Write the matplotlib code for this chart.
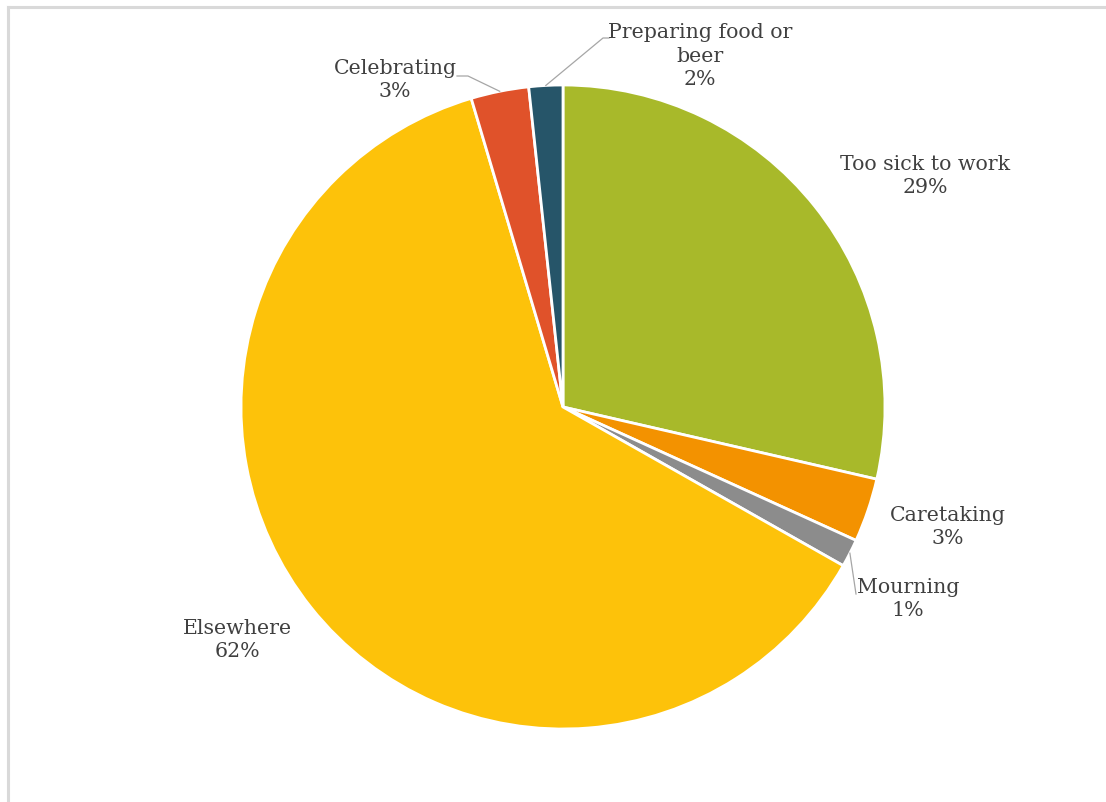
import numpy as np
import matplotlib
matplotlib.use("Agg")
import matplotlib.pyplot as plt
from matplotlib.lines import Line2D

# === Data (clockwise from 12 o'clock) ===
labels = ["Too sick to work", "Caretaking", "Mourning", "Elsewhere", "Celebrating", "Preparing food or\nbeer"]
shares = [28.6, 3.2, 1.4, 62.2, 2.9, 1.7]
pct_text = ["29%", "3%", "1%", "62%", "3%", "2%"]
colors = ["#A8B92A", "#F39200", "#8C8C8C", "#FDC20A", "#E0522A", "#265569"]

W, H = 1106, 802
TEXT_COLOR = "#404040"
LEADER_COLOR = "#A6A6A6"
FONT = ["DejaVu Serif"]

# label centres in screen pixels (y down) + optional leader elbow
label_pos = [(925, 176), (948, 527), (908, 599), (237, 640), (395, 80), (700, 56)]
leader_elbow = [None, None, (856, 594), None, ((468, 76), (457, 76)), ((603, 38), (609, 38))]

fig = plt.figure(figsize=(W / 100, H / 100), dpi=100)
ax = fig.add_axes([0, 0, 1, 1])

cx, cy, r = 563, H - 407, 322
wedges, _ = ax.pie(shares, colors=colors, startangle=90, counterclock=False,
                   center=(cx, cy), radius=r, frame=True,
                   wedgeprops=dict(edgecolor="white", linewidth=2))
ax.set_xlim(0, W)
ax.set_ylim(0, H)
ax.set_aspect("equal")
ax.axis("off")

for i, w in enumerate(wedges):
    lx, ly = label_pos[i]
    ax.text(lx, H - ly, f"{labels[i]}\n{pct_text[i]}", ha="center", va="center",
            fontsize=14.8, color=TEXT_COLOR, family=FONT, linespacing=1.33)
    elbow = leader_elbow[i]
    if elbow is None:
        continue
    mid = np.deg2rad((w.theta1 + w.theta2) / 2)
    px, py = cx + r * np.cos(mid), cy + r * np.sin(mid)
    pts = elbow if isinstance(elbow[0], tuple) else (elbow,)
    xs = [px] + [p[0] for p in pts]
    ys = [py] + [H - p[1] for p in pts]
    ax.plot(xs, ys, color=LEADER_COLOR, lw=0.9)

# chart area border (top and left edges visible in the crop)
fig.add_artist(Line2D([8 / W, 8 / W], [0, 1 - 7 / H], color="#D9D9D9", lw=2.2))
fig.add_artist(Line2D([8 / W, 1], [1 - 7 / H, 1 - 7 / H], color="#D9D9D9", lw=2.2))

fig.savefig("out.png", dpi=100, facecolor="white")
